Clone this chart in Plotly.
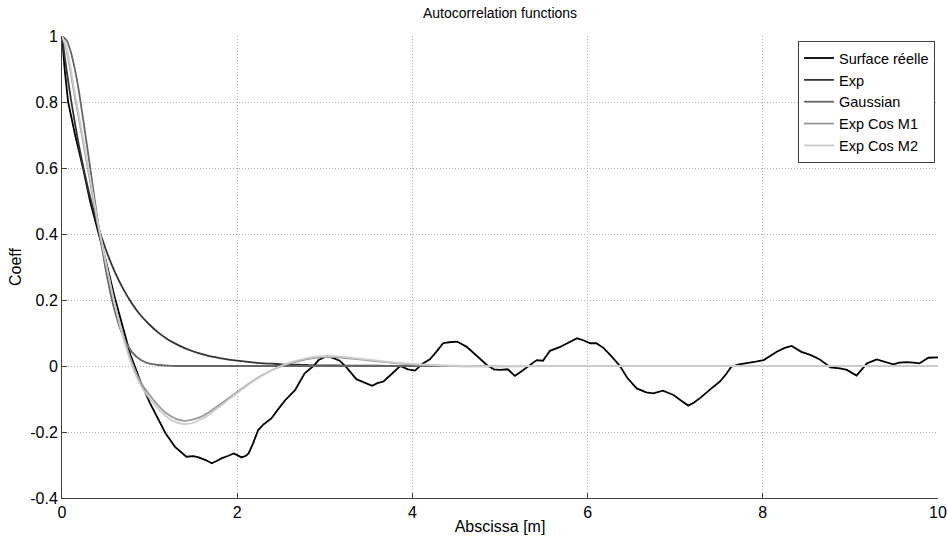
import plotly.graph_objects as go

# ---- data ----
surf_x = [0, 0.03, 0.07, 0.15, 0.24, 0.32, 0.40, 0.5, 0.6, 0.7, 0.78, 0.83, 0.9, 1.0, 1.06, 1.18, 1.29, 1.42, 1.5, 1.56, 1.64, 1.71, 1.77, 1.82, 1.9, 1.96, 2.0, 2.05, 2.1, 2.13, 2.18, 2.24, 2.3, 2.39, 2.47, 2.55, 2.66, 2.72, 2.77, 2.87, 2.93, 3.02, 3.1, 3.17, 3.25, 3.36, 3.45, 3.54, 3.6, 3.67, 3.76, 3.86, 3.95, 4.03, 4.12, 4.2, 4.28, 4.35, 4.42, 4.51, 4.62, 4.72, 4.85, 4.93, 5.0, 5.09, 5.17, 5.25, 5.34, 5.42, 5.49, 5.57, 5.68, 5.78, 5.88, 5.95, 6.03, 6.10, 6.18, 6.26, 6.37, 6.45, 6.56, 6.67, 6.75, 6.86, 6.98, 7.07, 7.15, 7.22, 7.28, 7.40, 7.51, 7.58, 7.64, 7.73, 7.82, 7.92, 8.01, 8.08, 8.16, 8.25, 8.33, 8.44, 8.55, 8.65, 8.77, 8.88, 8.96, 9.07, 9.19, 9.30, 9.4, 9.49, 9.56, 9.64, 9.72, 9.79, 9.89, 10.0]
surf_y = [1, 0.9, 0.8, 0.7, 0.6, 0.5, 0.42, 0.32, 0.21, 0.11, 0.035, 0.0, -0.05, -0.11, -0.142, -0.203, -0.245, -0.275, -0.273, -0.277, -0.285, -0.295, -0.287, -0.28, -0.272, -0.265, -0.27, -0.277, -0.272, -0.265, -0.235, -0.194, -0.177, -0.159, -0.13, -0.103, -0.073, -0.047, -0.022, 0.0, 0.018, 0.03, 0.024, 0.016, -0.005, -0.04, -0.05, -0.06, -0.052, -0.047, -0.025, 0.0, -0.01, -0.014, 0.008, 0.02, 0.045, 0.069, 0.072, 0.074, 0.058, 0.035, 0.003, -0.01, -0.012, -0.01, -0.03, -0.015, 0.003, 0.018, 0.016, 0.046, 0.057, 0.07, 0.084, 0.078, 0.069, 0.069, 0.055, 0.033, 0.0, -0.035, -0.068, -0.08, -0.083, -0.075, -0.088, -0.105, -0.12, -0.11, -0.098, -0.071, -0.047, -0.025, -0.002, 0.005, 0.008, 0.013, 0.018, 0.03, 0.043, 0.055, 0.061, 0.043, 0.033, 0.02, -0.004, -0.007, -0.012, -0.029, 0.008, 0.02, 0.012, 0.005, 0.01, 0.012, 0.01, 0.008, 0.025, 0.026]

model_x = [0, 0.05, 0.1, 0.15, 0.2, 0.3, 0.4, 0.5, 0.6, 0.7, 0.8, 0.9, 1.0, 1.1, 1.2, 1.3, 1.4, 1.5, 1.6, 1.7, 1.8, 1.9, 2.0, 2.1, 2.2, 2.3, 2.4, 2.5, 2.6, 2.7, 2.8, 2.9, 3.0, 3.1, 3.2, 3.4, 3.6, 3.8, 4.0, 4.3, 4.6, 5.0, 6.0, 7.0, 8.0, 9.0, 10.0]
exp_y = [1, 0.901, 0.812, 0.732, 0.659, 0.535, 0.435, 0.353, 0.287, 0.233, 0.189, 0.153, 0.125, 0.101, 0.082, 0.067, 0.054, 0.044, 0.036, 0.029, 0.024, 0.019, 0.016, 0.013, 0.010, 0.008, 0.007, 0.005, 0.004, 0.004, 0.003, 0.002, 0.002, 0.002, 0.001, 0.001, 0.001, 0.0, 0.0, 0.0, 0.0, 0.0, 0.0, 0.0, 0.0, 0.0, 0.0]
gauss_y = [1, 0.988, 0.952, 0.895, 0.821, 0.641, 0.454, 0.291, 0.169, 0.089, 0.042, 0.018, 0.007, 0.003, 0.001, 0.0, 0.0, 0.0, 0.0, 0.0, 0.0, 0.0, 0.0, 0.0, 0.0, 0.0, 0.0, 0.0, 0.0, 0.0, 0.0, 0.0, 0.0, 0.0, 0.0, 0.0, 0.0, 0.0, 0.0, 0.0, 0.0, 0.0, 0.0, 0.0, 0.0, 0.0, 0.0]
m1_y = [1, 0.96, 0.89, 0.81, 0.74, 0.59, 0.44, 0.31, 0.19, 0.09, 0.01, -0.05, -0.088, -0.12, -0.145, -0.16, -0.166, -0.162, -0.152, -0.136, -0.117, -0.098, -0.079, -0.06, -0.042, -0.026, -0.012, -0.001, 0.008, 0.015, 0.021, 0.025, 0.027, 0.027, 0.025, 0.02, 0.014, 0.009, 0.005, 0.001, -0.001, -0.001, 0.0, 0.0, 0.0, 0.0, 0.0]
m2_y = [1, 0.965, 0.9, 0.82, 0.75, 0.6, 0.45, 0.315, 0.19, 0.085, 0.0, -0.06, -0.098, -0.13, -0.155, -0.17, -0.176, -0.172, -0.16, -0.143, -0.123, -0.102, -0.082, -0.062, -0.043, -0.027, -0.012, 0.0, 0.01, 0.018, 0.024, 0.028, 0.03, 0.03, 0.028, 0.022, 0.016, 0.01, 0.006, 0.002, 0.0, 0.0, 0.0, 0.0, 0.0, 0.0, 0.0]

x_ticks = [0, 2, 4, 6, 8, 10]
x_tick_labels = ["0", "2", "4", "6", "8", "10"]
y_ticks = [-0.4, -0.2, 0, 0.2, 0.4, 0.6, 0.8, 1]
y_tick_labels = ["-0.4", "-0.2", "0", "0.2", "0.4", "0.6", "0.8", "1"]

names = ["Surface réelle", "Exp", "Gaussian", "Exp Cos M1", "Exp Cos M2"]
colors = ["#000000", "#333333", "#666666", "#999999", "#cccccc"]

FONT = "Liberation Sans, Arial, sans-serif"

fig = go.Figure()
fig.add_trace(go.Scatter(x=surf_x, y=surf_y, mode="lines", name=names[0],
                         line=dict(color=colors[0], width=1.8)))
for nm, col, ys in zip(names[1:], colors[1:], [exp_y, gauss_y, m1_y, m2_y]):
    fig.add_trace(go.Scatter(x=model_x, y=ys, mode="lines", name=nm,
                             line=dict(color=col, width=1.8, shape="spline", smoothing=0.6)))

axis_common = dict(showgrid=True, gridcolor="#b0b0b0", griddash="1px,2px", gridwidth=1,
                   zeroline=False, showline=True, linecolor="#404040", linewidth=1,
                   ticks="inside", ticklen=5, tickcolor="#404040", mirror=False,
                   automargin=False,
                   tickfont=dict(family=FONT, size=16, color="#000"))

fig.update_layout(
    width=947, height=542,
    margin=dict(l=62, r=9, t=36, b=44),
    paper_bgcolor="white", plot_bgcolor="white",
    title=dict(text="Autocorrelation functions", x=0.528, xanchor="center",
               y=1 - 13 / 542, yanchor="middle", yref="container",
               font=dict(family=FONT, size=14, color="#000")),
    xaxis=dict(range=[0, 10], tickvals=x_ticks, ticktext=x_tick_labels,
               title=dict(text="Abscissa [m]", standoff=0,
                          font=dict(family=FONT, size=16, color="#000")),
               **axis_common),
    yaxis=dict(range=[-0.4, 1], tickvals=y_ticks, ticktext=y_tick_labels,
               title=dict(text="Coeff", standoff=4,
                          font=dict(family=FONT, size=16, color="#000")),
               **axis_common),
    legend=dict(x=0.9966, xanchor="right", y=0.989, yanchor="top",
                bgcolor="white", bordercolor="#404040", borderwidth=1,
                font=dict(family=FONT, size=14.5, color="#000"),
                tracegroupgap=0, itemwidth=30),
    showlegend=True,
)

# remove the browser's default 8px body margin so the 947x542 figure fills the window
fig.write_html("out.html",
               config={"displayModeBar": False},
               post_script="document.body.style.margin='0';document.body.style.overflow='hidden';")
